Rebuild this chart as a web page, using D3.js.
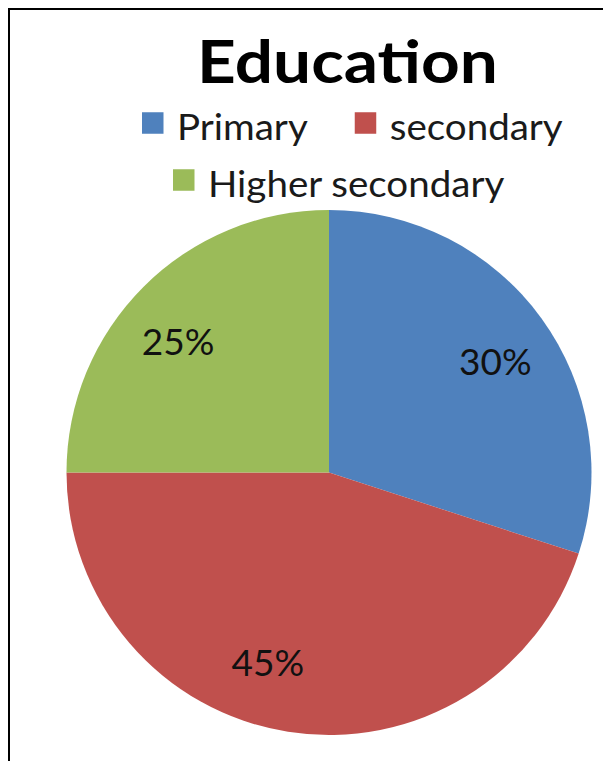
<!DOCTYPE html>
<html>
<head>
<meta charset="utf-8">
<script src="https://cdn.jsdelivr.net/npm/d3@7"></script>
<style>
  html, body { margin: 0; padding: 0; background: #ffffff; }
  svg { display: block; }
</style>
</head>
<body>
<svg id="chart" width="603" height="761"></svg>
<script>
// Share of respondents by education level
const categories = ["Primary", "secondary", "Higher secondary"];
const shares = [30, 45, 25];
const colors = ["#4F81BD", "#C0504D", "#9BBB59"];
const titleText = "Education";

const W = 603, H = 761;
const svg = d3.select("#chart");
const font = "Lato, 'Open Sans', sans-serif";

// widen text a little so it sets like a Calibri-style face
function widen(sel, factor) {
  const len = sel.node().getComputedTextLength();
  sel.attr("textLength", len * factor).attr("lengthAdjust", "spacingAndGlyphs");
  return len * factor;
}

// frame lines (left and top)
svg.append("path")
  .attr("d", `M9,${H} V9 H${W}`)
  .attr("fill", "none")
  .attr("stroke", "#000")
  .attr("stroke-width", 2);

// title
const title = svg.append("text")
  .attr("x", 347.5).attr("y", 83)
  .attr("text-anchor", "middle")
  .attr("font-family", font)
  .attr("font-weight", 700)
  .attr("font-size", 59)
  .attr("fill", "#000")
  .text(titleText);
widen(title, 1.145);

// legend: two rows, squares followed by labels
const legendRows = [[0, 1], [2]];
const rowStartX = [142, 173];
const rowBaseline = [140, 197];
const sq = 21.5, sqGap = 13.5, itemGap = 47;
legendRows.forEach((row, r) => {
  let x = rowStartX[r];
  row.forEach(i => {
    const g = svg.append("g").attr("class", "legend-item");
    g.append("rect")
      .attr("x", x).attr("y", rowBaseline[r] - 17 - sq / 2)
      .attr("width", sq).attr("height", sq)
      .attr("fill", colors[i]);
    const t = g.append("text")
      .attr("x", x + sq + sqGap).attr("y", rowBaseline[r])
      .attr("font-family", font)
      .attr("font-size", 36)
      .attr("fill", "#1a1a1a")
      .text(categories[i]);
    const w = widen(t, 1.07);
    x += sq + sqGap + w + itemGap;
  });
});

// pie
const cx = 329, cy = 472.5, radius = 262.5;
const pie = d3.pie().sort(null).value(d => d)(shares);
const arc = d3.arc().innerRadius(0).outerRadius(radius);

const g = svg.append("g").attr("transform", `translate(${cx},${cy})`);
g.selectAll("path.slice")
  .data(pie)
  .join("path")
  .attr("class", "slice")
  .attr("d", arc)
  .attr("fill", (d, i) => colors[i]);

// percentage labels, nudged around the slice middle
const labelRadius = 200;
const labelAngleShift = [2.3, 8.8, -4].map(a => a * Math.PI / 180);
g.selectAll("text.pct")
  .data(pie)
  .join("text")
  .attr("class", "pct")
  .attr("transform", (d, i) => {
    const a = (d.startAngle + d.endAngle) / 2 + labelAngleShift[i];
    const [x, y] = d3.pointRadial(a, labelRadius);
    return `translate(${x},${y})`;
  })
  .attr("text-anchor", "middle")
  .attr("dy", "0.36em")
  .attr("font-family", font)
  .attr("font-size", 37)
  .attr("fill", "#111")
  .text(d => d.data + "%");
</script>
</body>
</html>
